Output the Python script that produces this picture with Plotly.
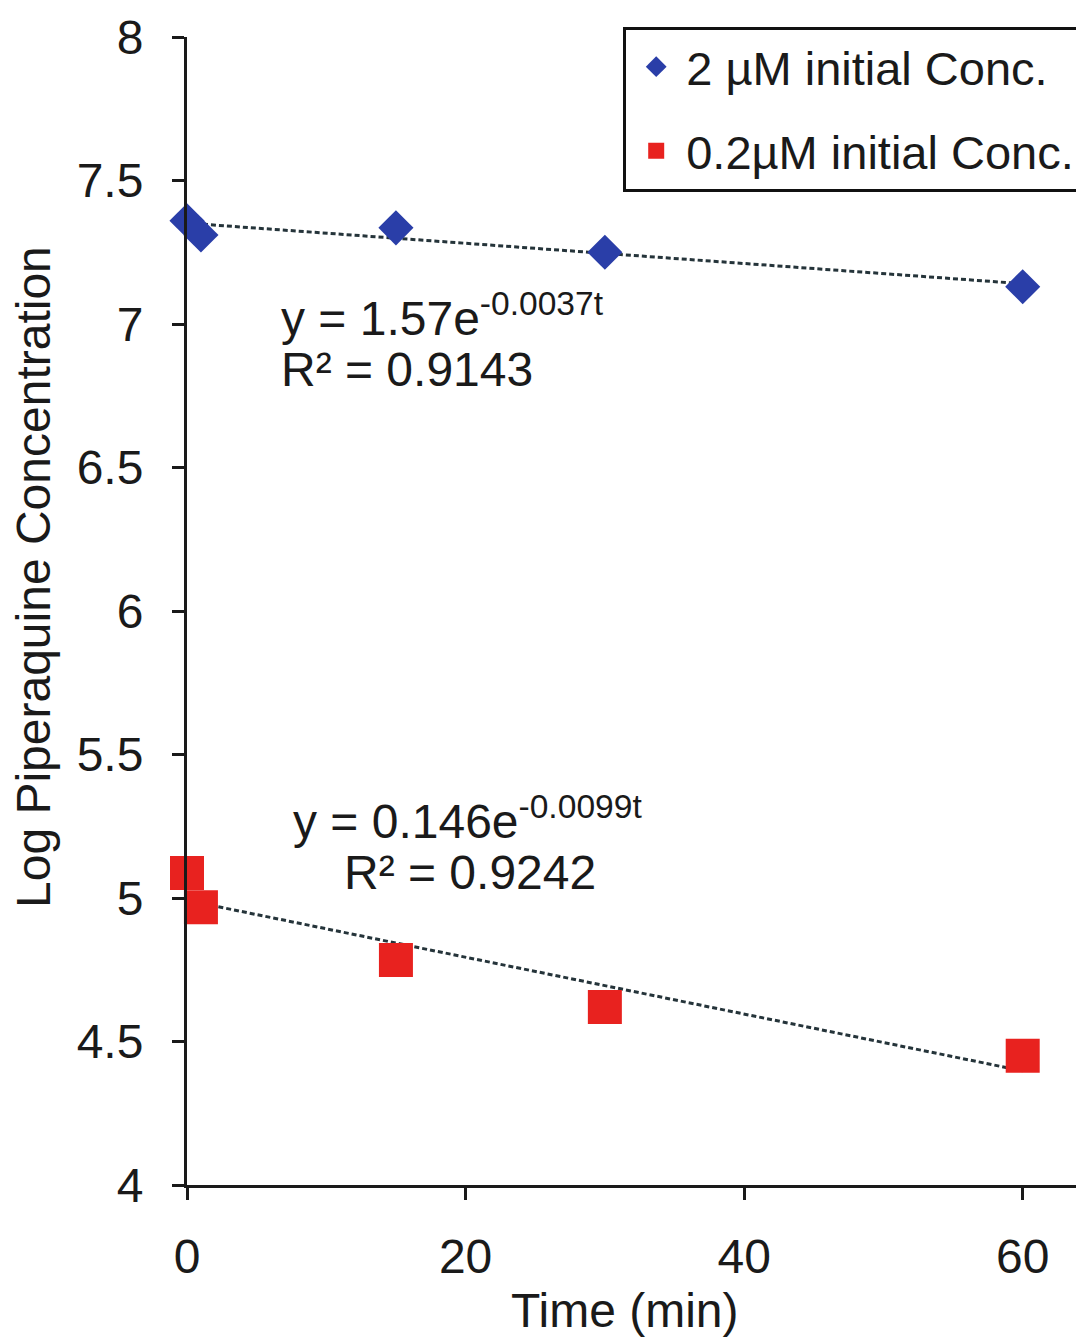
import numpy as np
import plotly.graph_objects as go

# ---- data ----
time_2uM = [0, 1, 15, 30, 60]
log_2uM = [7.36, 7.31, 7.335, 7.25, 7.13]
time_02uM = [0, 1, 15, 30, 60]
log_02uM = [5.087, 4.968, 4.784, 4.62, 4.45]

series_names = ["2 µM initial Conc.", "0.2µM initial Conc."]
eq_2uM = ["y = 1.57e<sup>-0.0037t</sup>", "R² = 0.9143"]
eq_02uM = ["y = 0.146e<sup>-0.0099t</sup>", "R² = 0.9242"]
x_ticks = [0, 20, 40, 60]
y_ticks = [4, 4.5, 5, 5.5, 6, 6.5, 7, 7.5, 8]
x_title = "Time (min)"
y_title = "Log Piperaquine Concentration"

FONT = "Liberation Sans, Arial, sans-serif"
TXT = "#1a1a1a"

# page has an 8px body margin: plot area at page x 187..1084, y 37..1185
W, H = 1076, 1335
L, T, B, R = 179, 29, 158, 0
PW = W - L - R
PH = H - T - B

fig = go.Figure()

# trend lines (least-squares fits of the plotted data)
for tx, ty in [(time_2uM, log_2uM), (time_02uM, log_02uM)]:
    slope, icpt = np.polyfit(tx, ty, 1)
    xs = np.array([min(tx), max(tx)])
    fig.add_trace(go.Scatter(x=xs, y=icpt + slope * xs, mode="lines",
                             line=dict(color="#25343a", width=3, dash="5px,3px"),
                             showlegend=False, hoverinfo="skip", cliponaxis=False))

fig.add_trace(go.Scatter(x=time_2uM, y=log_2uM, mode="markers", name=series_names[0],
                         legendgroup="a",
                         marker=dict(symbol="diamond", size=27, color="#2a3ea8"),
                         cliponaxis=False))
fig.add_trace(go.Scatter(x=time_02uM, y=log_02uM, mode="markers", name=series_names[1],
                         legendgroup="b",
                         marker=dict(symbol="square", size=34, color="#e8221f"),
                         cliponaxis=False))

ann_font = dict(family=FONT, size=48, color=TXT)
fig.add_annotation(x=6.6, y=7.03, xref="x", yref="y", text=eq_2uM[0], showarrow=False,
                   xanchor="left", yanchor="middle", font=ann_font)
fig.add_annotation(x=6.6, y=6.84, xref="x", yref="y", text=eq_2uM[1], showarrow=False,
                   xanchor="left", yanchor="middle", font=ann_font)
fig.add_annotation(x=7.5, y=5.28, xref="x", yref="y", text=eq_02uM[0], showarrow=False,
                   xanchor="left", yanchor="middle", font=ann_font)
fig.add_annotation(x=11.1, y=5.09, xref="x", yref="y", text=eq_02uM[1], showarrow=False,
                   xanchor="left", yanchor="middle", font=ann_font)

# axis titles
fig.add_annotation(x=(33 - 187) / PW, y=(1185 - 577) / PH, xref="paper", yref="paper",
                   text=y_title, textangle=-90, showarrow=False,
                   xanchor="center", yanchor="middle",
                   font=dict(family=FONT, size=48, color=TXT))
fig.add_annotation(x=(625 - 187) / PW, y=(1185 - 1310) / PH, xref="paper", yref="paper",
                   text=x_title, showarrow=False, xanchor="center", yanchor="middle",
                   font=dict(family=FONT, size=48, color=TXT))

axis_common = dict(showline=True, linecolor="#1a1a1a", linewidth=3, ticks="outside",
                   ticklen=12, tickwidth=3, tickcolor="#1a1a1a", showgrid=False,
                   zeroline=False, tickfont=dict(family=FONT, size=48, color=TXT))

fig.update_xaxes(range=[0, 64.4], tickvals=x_ticks, ticklabelstandoff=15, **axis_common)
fig.update_yaxes(range=[4, 8], tickvals=y_ticks, ticktext=[f"{v:g}" for v in y_ticks],
                 ticklabelstandoff=19, **axis_common)

fig.update_layout(
    width=W, height=H,
    margin=dict(l=L, r=R, t=T, b=B),
    paper_bgcolor="white", plot_bgcolor="white",
    font=dict(family=FONT, color=TXT),
    legend=dict(x=0.998, y=1.009, xanchor="right", yanchor="top",
                bordercolor="#111", borderwidth=3, bgcolor="white",
                font=dict(family=FONT, size=47, color=TXT),
                tracegroupgap=20, traceorder="grouped", itemwidth=50),
    showlegend=True,
)

fig.write_html("out.html")
